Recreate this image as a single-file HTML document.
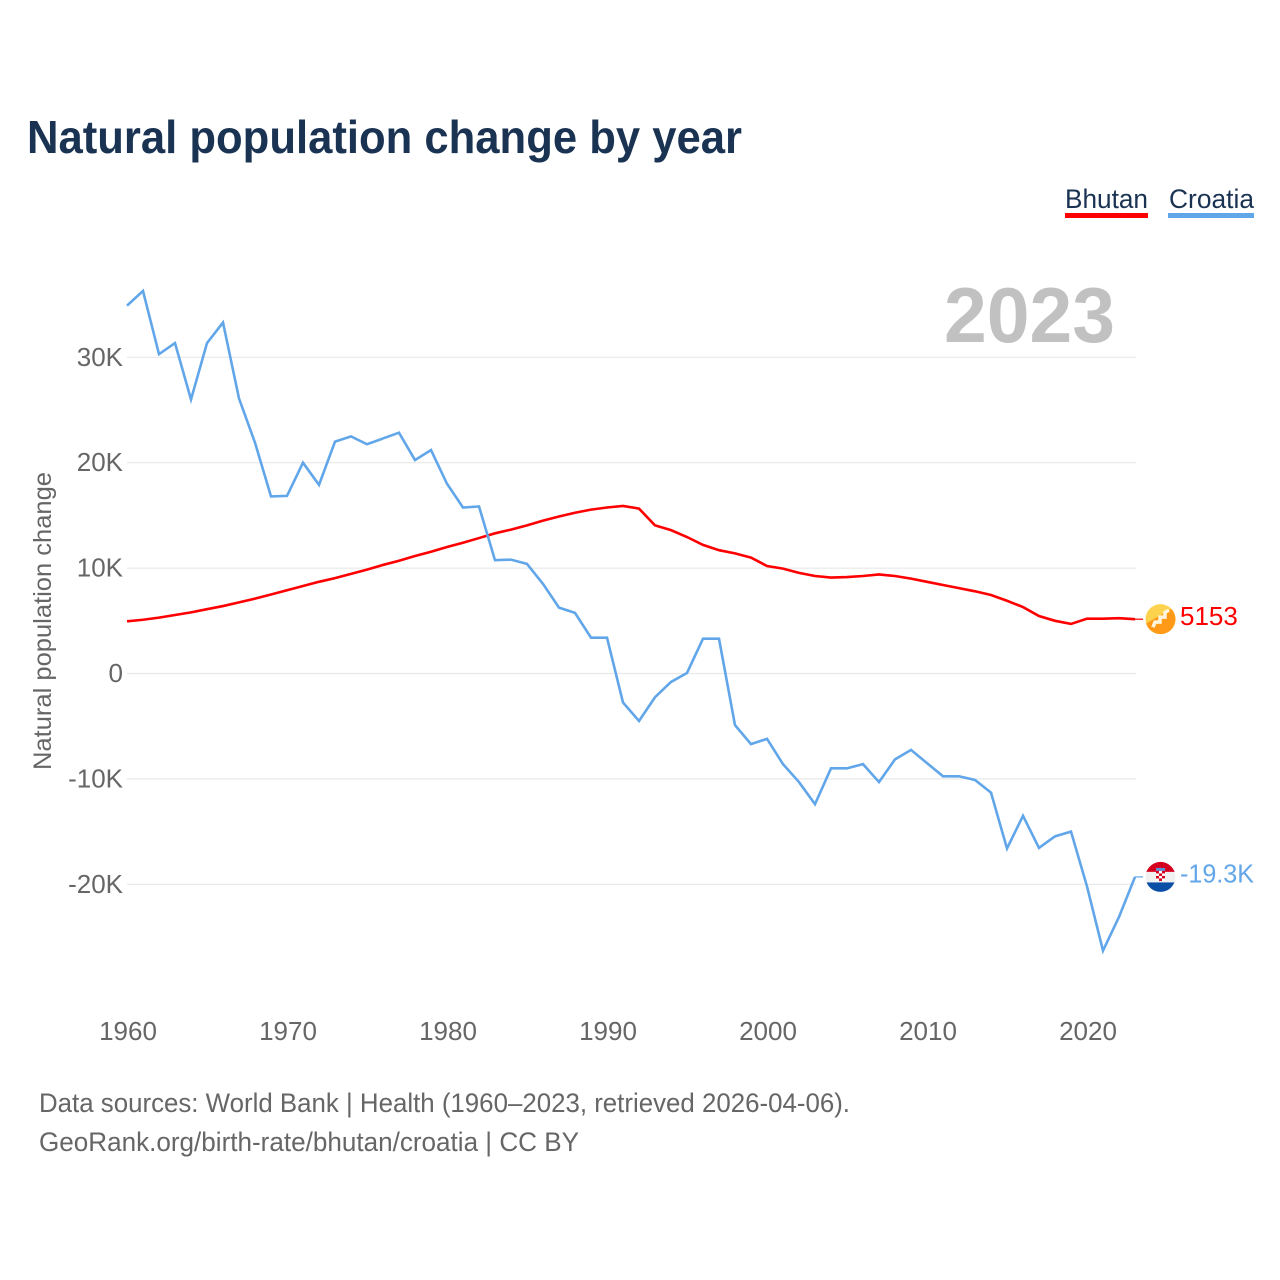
<!DOCTYPE html>
<html lang="en">
<head>
<meta charset="utf-8">
<title>Natural population change by year</title>
<style>
html,body{margin:0;padding:0;background:#fff;width:1280px;height:1280px;overflow:hidden}
svg{display:block}
text{font-family:"Liberation Sans",sans-serif}
</style>
</head>
<body>
<svg id="chart" xmlns="http://www.w3.org/2000/svg" width="1280" height="1280" viewBox="0 0 1280 1280">
  <defs>
    <clipPath id="flag-clip-bt"><circle cx="1160.5" cy="0" r="15"/></clipPath>
    <clipPath id="flag-clip-hr"><circle cx="1160.5" cy="0" r="15"/></clipPath>
  </defs>
  <rect x="0" y="0" width="1280" height="1280" fill="#fff"/>
  <text x="27" y="153" font-size="46" font-weight="700" fill="#1a3353" textLength="715" lengthAdjust="spacingAndGlyphs">Natural population change by year</text>

  <g>
    <g>
      <text x="1065" y="208" font-size="26.5" fill="#1a3353" textLength="83" lengthAdjust="spacingAndGlyphs">Bhutan</text>
      <rect x="1065" y="213" width="83" height="5" fill="#ff0000"/>
    </g>
    <g>
      <text x="1169" y="208" font-size="26.5" fill="#1a3353" textLength="85" lengthAdjust="spacingAndGlyphs">Croatia</text>
      <rect x="1168" y="213" width="86" height="5" fill="#62a6ea"/>
    </g>
  </g>

  <text x="1115" y="342" font-size="78" font-weight="700" fill="#c1c1c1" text-anchor="end" textLength="171" lengthAdjust="spacingAndGlyphs">2023</text>

  <g id="grid"></g>
  <g id="y-ticks"></g>
  <g id="x-ticks"></g>
  <text transform="translate(51,621) rotate(-90)" font-size="25" fill="#666666" text-anchor="middle" textLength="298" lengthAdjust="spacingAndGlyphs">Natural population change</text>

  <g id="series"></g>

  <g id="flag-bhutan">
    <g clip-path="url(#flag-clip-bt)">
      <rect x="1145" y="-16" width="31" height="32" fill="#fdd24c"/>
      <polygon points="1145,5 1176,-13 1176,16 1145,16" fill="#fe9a17"/>
      <polyline points="1153,8 1155,3 1160,3 1160,-2 1165,-2 1165,-7 1169,-9" fill="none" stroke="#fff4dc" stroke-width="3.5"/>
    </g>
  </g>
  <g id="flag-croatia">
    <g clip-path="url(#flag-clip-hr)">
      <rect x="1145" y="-16" width="31" height="11" fill="#d5001f"/>
      <rect x="1145" y="-5" width="31" height="10.5" fill="#f0f0f0"/>
      <rect x="1145" y="5.5" width="31" height="11" fill="#0b4ea6"/>
      <rect x="1156" y="-9" width="9" height="3" fill="#5b8fd8"/>
      <rect x="1156" y="-6" width="9" height="10" fill="#ffffff"/>
      <rect x="1156" y="-6" width="3" height="2.5" fill="#d5001f"/>
      <rect x="1162" y="-6" width="3" height="2.5" fill="#d5001f"/>
      <rect x="1159" y="-3.5" width="3" height="2.5" fill="#d5001f"/>
      <rect x="1156" y="-1" width="3" height="2.5" fill="#d5001f"/>
      <rect x="1162" y="-1" width="3" height="2.5" fill="#d5001f"/>
      <rect x="1159" y="1.5" width="3" height="2.5" fill="#d5001f"/>
    </g>
  </g>
  <g id="end-labels"></g>

  <text x="39" y="1112" font-size="27" fill="#666666" textLength="811" lengthAdjust="spacingAndGlyphs">Data sources: World Bank | Health (1960–2023, retrieved 2026-04-06).</text>
  <text x="39" y="1151" font-size="27" fill="#666666" textLength="540" lengthAdjust="spacingAndGlyphs">GeoRank.org/birth-rate/bhutan/croatia | CC BY</text>
</svg>
<script>
const firstYear = 1960;
const bhutanValues = [
  4950,5100,5300,5550,5800,6100,6400,6750,7100,7500,
  7900,8300,8700,9050,9450,9850,10300,10700,11150,11550,
  12000,12400,12850,13300,13650,14050,14500,14900,15250,15550,
  15750,15900,15650,14050,13600,12950,12200,11700,11400,11000,
  10200,9950,9550,9250,9100,9150,9250,9400,9250,9000,
  8700,8400,8100,7800,7450,6900,6300,5450,5000,4700,
  5200,5200,5250,5153
];
const croatiaValues = [
  34900,36300,30300,31350,26000,31350,33300,26100,21900,16800,
  16850,20000,17900,22000,22500,21750,22300,22850,20250,21200,
  18000,15750,15850,10750,10800,10400,8500,6250,5750,3400,
  3400,-2750,-4500,-2250,-800,50,3300,3300,-4900,-6700,
  -6200,-8600,-10300,-12400,-9000,-9000,-8600,-10300,-8150,-7250,
  -8500,-9750,-9750,-10100,-11300,-16600,-13500,-16550,-15450,-15000,
  -20200,-26300,-23100,-19300
];
const yTickValues = [30000,20000,10000,0,-10000,-20000];
const yTickLabels = ['30K','20K','10K','0','-10K','-20K'];
const xTickYears = [1960,1970,1980,1990,2000,2010,2020];
const endLabelBhutan = '5153';
const endLabelCroatia = '-19.3K';

const NS = 'http://www.w3.org/2000/svg';
const xScale = function (year) { return 127 + (year - firstYear) * 16; };
const yScale = function (value) { return 673.5 - value * 0.01054; };

function make(tag, parent, attrs) {
  const node = document.createElementNS(NS, tag);
  Object.keys(attrs).forEach(function (key) { node.setAttribute(key, attrs[key]); });
  parent.appendChild(node);
  return node;
}

const gridGroup = document.getElementById('grid');
const yGroup = document.getElementById('y-ticks');
yTickValues.forEach(function (value, i) {
  const line = make('line', gridGroup, { x1: 127, x2: 1136, y1: yScale(value), y2: yScale(value), stroke: '#e8e8e8', 'stroke-width': 1.2 });
  
  
  const label = make('text', yGroup, { x: 123, y: yScale(value) + 8.5, 'font-size': 26, fill: '#666666', 'text-anchor': 'end' });
  label.textContent = yTickLabels[i];
  
  
});

const xGroup = document.getElementById('x-ticks');
xTickYears.forEach(function (year) {
  const label = make('text', xGroup, { x: xScale(year) + 1, y: 1040, 'font-size': 26, fill: '#666666', 'text-anchor': 'middle' });
  label.textContent = String(year);
  
  
});

const seriesGroup = document.getElementById('series');
function pointsFor(values) {
  return values.map(function (value, i) { return xScale(firstYear + i) + ',' + yScale(value); }).join(' ');
}
const bhutanLine = make('polyline', seriesGroup, { points: pointsFor(bhutanValues), fill: 'none', stroke: '#ff0000', 'stroke-width': 2.6, 'stroke-linejoin': 'miter' });


const croatiaLine = make('polyline', seriesGroup, { points: pointsFor(croatiaValues), fill: 'none', stroke: '#62a6ea', 'stroke-width': 2.6, 'stroke-linejoin': 'miter' });



const lastX = xScale(firstYear + bhutanValues.length - 1);
const bhutanEndY = yScale(bhutanValues[bhutanValues.length - 1]);
const croatiaEndY = yScale(croatiaValues[croatiaValues.length - 1]);

const bhutanLeader = make('line', seriesGroup, { x1: lastX, x2: lastX + 8, y1: bhutanEndY, y2: bhutanEndY, stroke: '#ff0000', 'stroke-width': 1.2 });


const croatiaLeader = make('line', seriesGroup, { x1: lastX, x2: lastX + 8, y1: croatiaEndY, y2: croatiaEndY, stroke: '#62a6ea', 'stroke-width': 1.2 });



document.getElementById('flag-bhutan').setAttribute('transform', 'translate(0,' + bhutanEndY + ')');
document.getElementById('flag-croatia').setAttribute('transform', 'translate(0,' + croatiaEndY + ')');

const endGroup = document.getElementById('end-labels');
const bhutanEndLabel = make('text', endGroup, { x: 1180, y: bhutanEndY + 6, 'font-size': 26, fill: '#ff0000' });
bhutanEndLabel.textContent = endLabelBhutan;


const croatiaEndLabel = make('text', endGroup, { x: 1180, y: croatiaEndY + 5.5, 'font-size': 26, fill: '#62a6ea', textLength: 74, lengthAdjust: 'spacingAndGlyphs' });
croatiaEndLabel.textContent = endLabelCroatia;


</script>
</body>
</html>
